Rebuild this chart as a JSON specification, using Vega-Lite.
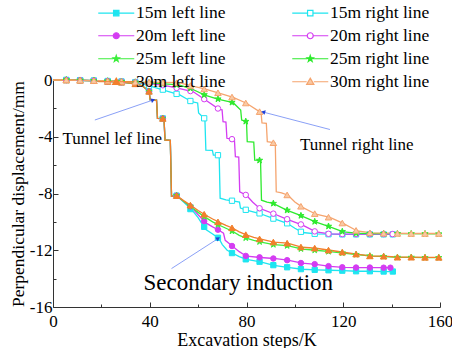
{
  "$schema": "https://vega.github.io/schema/vega-lite/v6.json",
  "width": 387,
  "height": 227,
  "autosize": {"type": "none"},
  "padding": {"left": 53, "top": 80, "right": 12, "bottom": 41},
  "background": "white",
  "config": {"view": {"stroke": null}, "font": "Liberation Serif"},
  "datasets": {
    "lines": [
      {"s":"15m left line","x":0,"y":0},{"s":"15m left line","x":6,"y":0},{"s":"15m left line","x":11,"y":-0.02},{"s":"15m left line","x":17,"y":-0.05},{"s":"15m left line","x":23,"y":-0.1},{"s":"15m left line","x":28,"y":-0.15},{"s":"15m left line","x":31,"y":-0.2},{"s":"15m left line","x":34.5,"y":-0.28},{"s":"15m left line","x":37,"y":-0.42},{"s":"15m left line","x":39.7,"y":-0.8},{"s":"15m left line","x":40.2,"y":-1.4},{"s":"15m left line","x":42.8,"y":-1.42},{"s":"15m left line","x":43.2,"y":-2.7},{"s":"15m left line","x":45.9,"y":-2.72},{"s":"15m left line","x":46.3,"y":-4.23},{"s":"15m left line","x":48.5,"y":-4.25},{"s":"15m left line","x":49,"y":-8.2},{"s":"15m left line","x":51.1,"y":-8.15},
      {"s":"15m left line","x":54,"y":-8.6},{"s":"15m left line","x":57.4,"y":-9.15},{"s":"15m left line","x":60,"y":-9.7},{"s":"15m left line","x":61.5,"y":-10.1},{"s":"15m left line","x":63.2,"y":-10.54},{"s":"15m left line","x":66,"y":-10.85},{"s":"15m left line","x":68.6,"y":-11.17},{"s":"15m left line","x":70,"y":-11.6},{"s":"15m left line","x":72,"y":-12.0},{"s":"15m left line","x":74.5,"y":-12.23},{"s":"15m left line","x":77,"y":-12.45},{"s":"15m left line","x":80,"y":-12.65},{"s":"15m left line","x":85.8,"y":-12.82},{"s":"15m left line","x":91.3,"y":-13.06},{"s":"15m left line","x":97,"y":-13.2},{"s":"15m left line","x":103,"y":-13.34},{"s":"15m left line","x":108.7,"y":-13.38},{"s":"15m left line","x":114.5,"y":-13.41},{"s":"15m left line","x":120,"y":-13.44},{"s":"15m left line","x":125.6,"y":-13.48},{"s":"15m left line","x":131,"y":-13.48},{"s":"15m left line","x":136.7,"y":-13.5},{"s":"15m left line","x":140.5,"y":-13.5},

      {"s":"15m right line","x":0,"y":0},{"s":"15m right line","x":6,"y":0},{"s":"15m right line","x":11,"y":-0.02},{"s":"15m right line","x":17,"y":-0.04},{"s":"15m right line","x":23,"y":-0.07},{"s":"15m right line","x":28,"y":-0.1},{"s":"15m right line","x":34,"y":-0.15},
      {"s":"15m right line","x":40,"y":-0.42},{"s":"15m right line","x":44,"y":-0.62},{"s":"15m right line","x":49.6,"y":-0.9},{"s":"15m right line","x":52.4,"y":-1.05},{"s":"15m right line","x":55,"y":-1.3},{"s":"15m right line","x":57.3,"y":-1.53},{"s":"15m right line","x":59.8,"y":-1.62},{"s":"15m right line","x":60.2,"y":-2.33},{"s":"15m right line","x":62.8,"y":-2.75},{"s":"15m right line","x":63.2,"y":-4.94},{"s":"15m right line","x":65.9,"y":-4.96},{"s":"15m right line","x":66.3,"y":-5.29},{"s":"15m right line","x":68.7,"y":-5.3},{"s":"15m right line","x":69.1,"y":-8.33},{"s":"15m right line","x":71.5,"y":-8.45},{"s":"15m right line","x":74.3,"y":-8.52},{"s":"15m right line","x":77.1,"y":-8.6},{"s":"15m right line","x":77.5,"y":-9.03},{"s":"15m right line","x":80,"y":-9.17},{"s":"15m right line","x":85.5,"y":-9.41},{"s":"15m right line","x":91,"y":-9.76},{"s":"15m right line","x":96.8,"y":-10.1},{"s":"15m right line","x":100,"y":-10.45},{"s":"15m right line","x":103.2,"y":-10.75},{"s":"15m right line","x":108.7,"y":-10.85},{"s":"15m right line","x":114.5,"y":-10.87},{"s":"15m right line","x":120,"y":-10.88},{"s":"15m right line","x":131,"y":-10.88},{"s":"15m right line","x":140.5,"y":-10.88},

      {"s":"20m left line","x":0,"y":0},{"s":"20m left line","x":6,"y":0},{"s":"20m left line","x":11,"y":-0.02},{"s":"20m left line","x":17,"y":-0.05},{"s":"20m left line","x":23,"y":-0.1},{"s":"20m left line","x":28,"y":-0.15},{"s":"20m left line","x":31,"y":-0.2},{"s":"20m left line","x":34.5,"y":-0.28},{"s":"20m left line","x":37,"y":-0.42},{"s":"20m left line","x":39.7,"y":-0.8},{"s":"20m left line","x":40.2,"y":-1.4},{"s":"20m left line","x":42.8,"y":-1.42},{"s":"20m left line","x":43.2,"y":-2.7},{"s":"20m left line","x":45.9,"y":-2.72},{"s":"20m left line","x":46.3,"y":-4.23},{"s":"20m left line","x":48.5,"y":-4.25},{"s":"20m left line","x":49,"y":-8.2},{"s":"20m left line","x":51.1,"y":-8.15},
      {"s":"20m left line","x":54,"y":-8.55},{"s":"20m left line","x":57.4,"y":-9.0},{"s":"20m left line","x":60,"y":-9.5},{"s":"20m left line","x":63.2,"y":-10.07},{"s":"20m left line","x":66,"y":-10.35},{"s":"20m left line","x":68.6,"y":-10.59},{"s":"20m left line","x":70.5,"y":-10.8},{"s":"20m left line","x":71.2,"y":-11.3},{"s":"20m left line","x":74.5,"y":-11.76},{"s":"20m left line","x":77,"y":-12.1},{"s":"20m left line","x":80,"y":-12.42},{"s":"20m left line","x":85.8,"y":-12.51},{"s":"20m left line","x":91.3,"y":-12.58},{"s":"20m left line","x":97,"y":-12.7},{"s":"20m left line","x":103,"y":-12.91},{"s":"20m left line","x":108.7,"y":-12.99},{"s":"20m left line","x":114.5,"y":-13.13},{"s":"20m left line","x":120,"y":-13.2},{"s":"20m left line","x":125.6,"y":-13.22},{"s":"20m left line","x":131,"y":-13.22},{"s":"20m left line","x":136.7,"y":-13.23},{"s":"20m left line","x":139.5,"y":-13.23},

      {"s":"20m right line","x":0,"y":0},{"s":"20m right line","x":6,"y":0},{"s":"20m right line","x":11,"y":-0.02},{"s":"20m right line","x":17,"y":-0.04},{"s":"20m right line","x":23,"y":-0.07},{"s":"20m right line","x":28,"y":-0.1},{"s":"20m right line","x":34,"y":-0.15},
      {"s":"20m right line","x":40,"y":-0.25},{"s":"20m right line","x":46,"y":-0.38},{"s":"20m right line","x":52,"y":-0.59},{"s":"20m right line","x":58,"y":-0.83},{"s":"20m right line","x":63.5,"y":-1.46},{"s":"20m right line","x":68.7,"y":-2.07},{"s":"20m right line","x":69.9,"y":-2.1},{"s":"20m right line","x":70.3,"y":-2.94},{"s":"20m right line","x":71.5,"y":-2.96},{"s":"20m right line","x":71.9,"y":-4.11},{"s":"20m right line","x":74.5,"y":-4.18},{"s":"20m right line","x":75,"y":-4.2},{"s":"20m right line","x":75.4,"y":-5.41},{"s":"20m right line","x":76.8,"y":-5.43},{"s":"20m right line","x":77.2,"y":-7.88},{"s":"20m right line","x":80,"y":-8.12},{"s":"20m right line","x":82.5,"y":-8.6},{"s":"20m right line","x":85.5,"y":-9.05},{"s":"20m right line","x":91,"y":-9.41},{"s":"20m right line","x":96.6,"y":-9.8},{"s":"20m right line","x":103.2,"y":-10.23},{"s":"20m right line","x":108.7,"y":-10.71},{"s":"20m right line","x":114.5,"y":-10.85},{"s":"20m right line","x":120,"y":-10.86},{"s":"20m right line","x":131,"y":-10.86},{"s":"20m right line","x":140.4,"y":-10.86},

      {"s":"25m left line","x":0,"y":0},{"s":"25m left line","x":6,"y":0},{"s":"25m left line","x":11,"y":-0.02},{"s":"25m left line","x":17,"y":-0.05},{"s":"25m left line","x":23,"y":-0.1},{"s":"25m left line","x":28,"y":-0.15},{"s":"25m left line","x":31,"y":-0.2},{"s":"25m left line","x":34.5,"y":-0.28},{"s":"25m left line","x":37,"y":-0.42},{"s":"25m left line","x":39.7,"y":-0.8},{"s":"25m left line","x":40.2,"y":-1.4},{"s":"25m left line","x":42.8,"y":-1.42},{"s":"25m left line","x":43.2,"y":-2.7},{"s":"25m left line","x":45.9,"y":-2.72},{"s":"25m left line","x":46.3,"y":-4.23},{"s":"25m left line","x":48.5,"y":-4.25},{"s":"25m left line","x":49,"y":-8.2},{"s":"25m left line","x":51.1,"y":-8.15},
      {"s":"25m left line","x":54,"y":-8.55},{"s":"25m left line","x":57.4,"y":-8.98},{"s":"25m left line","x":60,"y":-9.33},{"s":"25m left line","x":63.2,"y":-9.7},{"s":"25m left line","x":66,"y":-10.0},{"s":"25m left line","x":68.6,"y":-10.22},{"s":"25m left line","x":71.5,"y":-10.45},{"s":"25m left line","x":74.4,"y":-10.68},{"s":"25m left line","x":77,"y":-10.95},{"s":"25m left line","x":80.2,"y":-11.17},{"s":"25m left line","x":83,"y":-11.3},{"s":"25m left line","x":86,"y":-11.42},{"s":"25m left line","x":91.3,"y":-11.6},{"s":"25m left line","x":97,"y":-11.68},{"s":"25m left line","x":103,"y":-11.92},{"s":"25m left line","x":108.7,"y":-12.0},{"s":"25m left line","x":114.5,"y":-12.1},{"s":"25m left line","x":120,"y":-12.2},{"s":"25m left line","x":125.6,"y":-12.3},{"s":"25m left line","x":131.8,"y":-12.42},{"s":"25m left line","x":137,"y":-12.44},{"s":"25m left line","x":142.6,"y":-12.5},{"s":"25m left line","x":148,"y":-12.5},{"s":"25m left line","x":154,"y":-12.52},{"s":"25m left line","x":160,"y":-12.52},

      {"s":"25m right line","x":0,"y":0},{"s":"25m right line","x":6,"y":0},{"s":"25m right line","x":11,"y":-0.02},{"s":"25m right line","x":17,"y":-0.04},{"s":"25m right line","x":23,"y":-0.07},{"s":"25m right line","x":28,"y":-0.1},{"s":"25m right line","x":34,"y":-0.15},
      {"s":"25m right line","x":40,"y":-0.2},{"s":"25m right line","x":46,"y":-0.27},{"s":"25m right line","x":52,"y":-0.35},{"s":"25m right line","x":57,"y":-0.6},{"s":"25m right line","x":62.8,"y":-1.06},{"s":"25m right line","x":68.1,"y":-1.34},{"s":"25m right line","x":74.5,"y":-1.6},{"s":"25m right line","x":77.6,"y":-2.12},{"s":"25m right line","x":78,"y":-2.82},{"s":"25m right line","x":80,"y":-2.94},{"s":"25m right line","x":80.3,"y":-4.35},{"s":"25m right line","x":83,"y":-4.37},{"s":"25m right line","x":83.4,"y":-5.65},{"s":"25m right line","x":85.8,"y":-5.67},{"s":"25m right line","x":86.2,"y":-8.47},{"s":"25m right line","x":88.5,"y":-8.6},{"s":"25m right line","x":91,"y":-8.7},{"s":"25m right line","x":96.6,"y":-9.17},{"s":"25m right line","x":102,"y":-9.53},{"s":"25m right line","x":108.5,"y":-10.0},{"s":"25m right line","x":114.5,"y":-10.35},{"s":"25m right line","x":120,"y":-10.71},{"s":"25m right line","x":125.6,"y":-10.8},{"s":"25m right line","x":131,"y":-10.82},{"s":"25m right line","x":142,"y":-10.83},{"s":"25m right line","x":160,"y":-10.85},

      {"s":"30m left line","x":0,"y":0},{"s":"30m left line","x":6,"y":0},{"s":"30m left line","x":11,"y":-0.02},{"s":"30m left line","x":17,"y":-0.05},{"s":"30m left line","x":23,"y":-0.1},{"s":"30m left line","x":28,"y":-0.15},{"s":"30m left line","x":31,"y":-0.2},{"s":"30m left line","x":34.5,"y":-0.28},{"s":"30m left line","x":37,"y":-0.42},{"s":"30m left line","x":39.7,"y":-0.8},{"s":"30m left line","x":40.2,"y":-1.4},{"s":"30m left line","x":42.8,"y":-1.42},{"s":"30m left line","x":43.2,"y":-2.7},{"s":"30m left line","x":45.9,"y":-2.72},{"s":"30m left line","x":46.3,"y":-4.23},{"s":"30m left line","x":48.5,"y":-4.25},{"s":"30m left line","x":49,"y":-8.2},{"s":"30m left line","x":51.1,"y":-8.15},
      {"s":"30m left line","x":54,"y":-8.5},{"s":"30m left line","x":57.4,"y":-8.89},{"s":"30m left line","x":60,"y":-9.2},{"s":"30m left line","x":63.2,"y":-9.53},{"s":"30m left line","x":66,"y":-9.8},{"s":"30m left line","x":68.6,"y":-10.02},{"s":"30m left line","x":71.5,"y":-10.25},{"s":"30m left line","x":74.4,"y":-10.45},{"s":"30m left line","x":77,"y":-10.7},{"s":"30m left line","x":80.2,"y":-10.94},{"s":"30m left line","x":83,"y":-11.1},{"s":"30m left line","x":86,"y":-11.22},{"s":"30m left line","x":91.3,"y":-11.43},{"s":"30m left line","x":97,"y":-11.5},{"s":"30m left line","x":103,"y":-11.79},{"s":"30m left line","x":108.7,"y":-11.86},{"s":"30m left line","x":114.5,"y":-12.0},{"s":"30m left line","x":120,"y":-12.14},{"s":"30m left line","x":125.6,"y":-12.28},{"s":"30m left line","x":131.8,"y":-12.42},{"s":"30m left line","x":137,"y":-12.42},{"s":"30m left line","x":142.6,"y":-12.49},{"s":"30m left line","x":148,"y":-12.49},{"s":"30m left line","x":154,"y":-12.5},{"s":"30m left line","x":160,"y":-12.5},

      {"s":"30m right line","x":0,"y":0},{"s":"30m right line","x":6,"y":0},{"s":"30m right line","x":11,"y":-0.02},{"s":"30m right line","x":17,"y":-0.04},{"s":"30m right line","x":23,"y":-0.07},{"s":"30m right line","x":28,"y":-0.1},{"s":"30m right line","x":34,"y":-0.15},
      {"s":"30m right line","x":40,"y":-0.15},{"s":"30m right line","x":46,"y":-0.17},{"s":"30m right line","x":52,"y":-0.19},{"s":"30m right line","x":57,"y":-0.4},{"s":"30m right line","x":63,"y":-0.65},{"s":"30m right line","x":69,"y":-0.94},{"s":"30m right line","x":74.5,"y":-1.22},{"s":"30m right line","x":80,"y":-1.64},{"s":"30m right line","x":85.5,"y":-2.24},{"s":"30m right line","x":86,"y":-2.26},{"s":"30m right line","x":86.4,"y":-3.03},{"s":"30m right line","x":88.2,"y":-3.05},{"s":"30m right line","x":88.6,"y":-4.35},{"s":"30m right line","x":91.3,"y":-4.42},{"s":"30m right line","x":91.9,"y":-4.45},{"s":"30m right line","x":92.3,"y":-7.88},{"s":"30m right line","x":94.5,"y":-7.95},{"s":"30m right line","x":97.2,"y":-8.12},{"s":"30m right line","x":100,"y":-8.6},{"s":"30m right line","x":103.2,"y":-8.98},{"s":"30m right line","x":108.7,"y":-9.46},{"s":"30m right line","x":114.5,"y":-9.69},{"s":"30m right line","x":120,"y":-10.11},{"s":"30m right line","x":125.8,"y":-10.64},{"s":"30m right line","x":131.7,"y":-10.78},{"s":"30m right line","x":137,"y":-10.8},{"s":"30m right line","x":148,"y":-10.82},{"s":"30m right line","x":160,"y":-10.82}
    ],
    "marks": [
      {"series":"15m left line","x":5.5,"y":0},{"series":"15m left line","x":11.2,"y":-0.02},{"series":"15m left line","x":16.9,"y":-0.05},{"series":"15m left line","x":22.6,"y":-0.1},{"series":"15m left line","x":28.3,"y":-0.16},{"series":"15m left line","x":34,"y":-0.27},{"series":"15m left line","x":39.7,"y":-0.8},{"series":"15m left line","x":45.4,"y":-2.71},{"series":"15m left line","x":51.1,"y":-8.15},
      {"series":"15m left line","x":56.8,"y":-9.1},{"series":"15m left line","x":62.5,"y":-10.35},{"series":"15m left line","x":68.2,"y":-11.12},{"series":"15m left line","x":74,"y":-12.2},{"series":"15m left line","x":79.7,"y":-12.64},{"series":"15m left line","x":85.4,"y":-12.81},{"series":"15m left line","x":91.1,"y":-13.05},{"series":"15m left line","x":96.8,"y":-13.2},{"series":"15m left line","x":102.5,"y":-13.33},{"series":"15m left line","x":108.2,"y":-13.38},{"series":"15m left line","x":113.9,"y":-13.41},{"series":"15m left line","x":119.6,"y":-13.44},{"series":"15m left line","x":125.3,"y":-13.48},{"series":"15m left line","x":131,"y":-13.48},{"series":"15m left line","x":136.7,"y":-13.5},{"series":"15m left line","x":140.5,"y":-13.5},

      {"series":"15m right line","x":5.5,"y":0},{"series":"15m right line","x":11.2,"y":-0.02},{"series":"15m right line","x":16.9,"y":-0.04},{"series":"15m right line","x":22.6,"y":-0.07},{"series":"15m right line","x":28.3,"y":-0.1},{"series":"15m right line","x":34,"y":-0.15},
      {"series":"15m right line","x":39.7,"y":-0.41},{"series":"15m right line","x":45.4,"y":-0.68},{"series":"15m right line","x":51.1,"y":-0.98},{"series":"15m right line","x":56.8,"y":-1.48},{"series":"15m right line","x":62.5,"y":-2.7},{"series":"15m right line","x":68.2,"y":-5.3},{"series":"15m right line","x":74,"y":-8.51},{"series":"15m right line","x":79.7,"y":-9.15},{"series":"15m right line","x":85.4,"y":-9.4},{"series":"15m right line","x":91.1,"y":-9.77},{"series":"15m right line","x":96.8,"y":-10.1},{"series":"15m right line","x":102.5,"y":-10.7},{"series":"15m right line","x":108.2,"y":-10.84},{"series":"15m right line","x":113.9,"y":-10.87},{"series":"15m right line","x":119.6,"y":-10.88},{"series":"15m right line","x":125.3,"y":-10.88},{"series":"15m right line","x":131,"y":-10.88},{"series":"15m right line","x":136.7,"y":-10.88},{"series":"15m right line","x":140.5,"y":-10.88},

      {"series":"20m left line","x":5.5,"y":0},{"series":"20m left line","x":11.2,"y":-0.02},{"series":"20m left line","x":16.9,"y":-0.05},{"series":"20m left line","x":22.6,"y":-0.1},{"series":"20m left line","x":28.3,"y":-0.16},{"series":"20m left line","x":34,"y":-0.27},{"series":"20m left line","x":39.7,"y":-0.8},{"series":"20m left line","x":45.4,"y":-2.71},{"series":"20m left line","x":51.1,"y":-8.15},
      {"series":"20m left line","x":56.8,"y":-8.92},{"series":"20m left line","x":62.5,"y":-9.95},{"series":"20m left line","x":68.2,"y":-10.55},{"series":"20m left line","x":74,"y":-11.7},{"series":"20m left line","x":79.7,"y":-12.4},{"series":"20m left line","x":85.4,"y":-12.5},{"series":"20m left line","x":91.1,"y":-12.58},{"series":"20m left line","x":96.8,"y":-12.7},{"series":"20m left line","x":102.5,"y":-12.9},{"series":"20m left line","x":108.2,"y":-12.98},{"series":"20m left line","x":113.9,"y":-13.12},{"series":"20m left line","x":119.6,"y":-13.2},{"series":"20m left line","x":125.3,"y":-13.22},{"series":"20m left line","x":131,"y":-13.22},{"series":"20m left line","x":136.7,"y":-13.23},{"series":"20m left line","x":139.5,"y":-13.23},

      {"series":"20m right line","x":5.5,"y":0},{"series":"20m right line","x":11.2,"y":-0.02},{"series":"20m right line","x":16.9,"y":-0.04},{"series":"20m right line","x":22.6,"y":-0.07},{"series":"20m right line","x":28.3,"y":-0.1},{"series":"20m right line","x":34,"y":-0.15},
      {"series":"20m right line","x":39.7,"y":-0.25},{"series":"20m right line","x":45.4,"y":-0.37},{"series":"20m right line","x":51.1,"y":-0.56},{"series":"20m right line","x":56.8,"y":-0.78},{"series":"20m right line","x":62.5,"y":-1.35},{"series":"20m right line","x":68.2,"y":-2.01},{"series":"20m right line","x":74,"y":-4.17},{"series":"20m right line","x":79.7,"y":-8.1},{"series":"20m right line","x":85.4,"y":-9.04},{"series":"20m right line","x":91.1,"y":-9.42},{"series":"20m right line","x":96.8,"y":-9.81},{"series":"20m right line","x":102.5,"y":-10.18},{"series":"20m right line","x":108.2,"y":-10.67},{"series":"20m right line","x":113.9,"y":-10.84},{"series":"20m right line","x":119.6,"y":-10.86},{"series":"20m right line","x":125.3,"y":-10.86},{"series":"20m right line","x":131,"y":-10.86},{"series":"20m right line","x":136.7,"y":-10.86},{"series":"20m right line","x":140.4,"y":-10.86},

      {"series":"25m left line","x":5.5,"y":0},{"series":"25m left line","x":11.2,"y":-0.02},{"series":"25m left line","x":16.9,"y":-0.05},{"series":"25m left line","x":22.6,"y":-0.1},{"series":"25m left line","x":28.3,"y":-0.16},{"series":"25m left line","x":34,"y":-0.27},{"series":"25m left line","x":39.7,"y":-0.8},{"series":"25m left line","x":45.4,"y":-2.71},{"series":"25m left line","x":51.1,"y":-8.15},
      {"series":"25m left line","x":56.8,"y":-8.9},{"series":"25m left line","x":62.5,"y":-9.62},{"series":"25m left line","x":68.2,"y":-10.19},{"series":"25m left line","x":74,"y":-10.65},{"series":"25m left line","x":79.7,"y":-11.13},{"series":"25m left line","x":85.4,"y":-11.4},{"series":"25m left line","x":91.1,"y":-11.6},{"series":"25m left line","x":96.8,"y":-11.68},{"series":"25m left line","x":102.5,"y":-11.9},{"series":"25m left line","x":108.2,"y":-11.99},{"series":"25m left line","x":113.9,"y":-12.09},{"series":"25m left line","x":119.6,"y":-12.19},{"series":"25m left line","x":125.3,"y":-12.3},{"series":"25m left line","x":131,"y":-12.4},{"series":"25m left line","x":136.7,"y":-12.44},{"series":"25m left line","x":142.4,"y":-12.5},{"series":"25m left line","x":148.1,"y":-12.5},{"series":"25m left line","x":153.8,"y":-12.52},{"series":"25m left line","x":159.5,"y":-12.52},

      {"series":"25m right line","x":5.5,"y":0},{"series":"25m right line","x":11.2,"y":-0.02},{"series":"25m right line","x":16.9,"y":-0.04},{"series":"25m right line","x":22.6,"y":-0.07},{"series":"25m right line","x":28.3,"y":-0.1},{"series":"25m right line","x":34,"y":-0.15},
      {"series":"25m right line","x":39.7,"y":-0.2},{"series":"25m right line","x":45.4,"y":-0.26},{"series":"25m right line","x":51.1,"y":-0.34},{"series":"25m right line","x":56.8,"y":-0.59},{"series":"25m right line","x":62.5,"y":-1.04},{"series":"25m right line","x":68.2,"y":-1.34},{"series":"25m right line","x":74,"y":-1.58},{"series":"25m right line","x":79.7,"y":-2.92},{"series":"25m right line","x":85.4,"y":-5.66},{"series":"25m right line","x":91.1,"y":-8.7},{"series":"25m right line","x":96.8,"y":-9.18},{"series":"25m right line","x":102.5,"y":-9.56},{"series":"25m right line","x":108.2,"y":-9.98},{"series":"25m right line","x":113.9,"y":-10.31},{"series":"25m right line","x":119.6,"y":-10.68},{"series":"25m right line","x":125.3,"y":-10.8},{"series":"25m right line","x":131,"y":-10.82},{"series":"25m right line","x":136.7,"y":-10.82},{"series":"25m right line","x":142.4,"y":-10.83},{"series":"25m right line","x":148.1,"y":-10.84},{"series":"25m right line","x":153.8,"y":-10.84},{"series":"25m right line","x":159.5,"y":-10.85},

      {"series":"30m left line","x":5.5,"y":0},{"series":"30m left line","x":11.2,"y":-0.02},{"series":"30m left line","x":16.9,"y":-0.05},{"series":"30m left line","x":22.6,"y":-0.1},{"series":"30m left line","x":28.3,"y":-0.16},{"series":"30m left line","x":34,"y":-0.27},{"series":"30m left line","x":39.7,"y":-0.8},{"series":"30m left line","x":45.4,"y":-2.71},{"series":"30m left line","x":51.1,"y":-8.15},
      {"series":"30m left line","x":56.8,"y":-8.82},{"series":"30m left line","x":62.5,"y":-9.46},{"series":"30m left line","x":68.2,"y":-10.0},{"series":"30m left line","x":74,"y":-10.42},{"series":"30m left line","x":79.7,"y":-10.9},{"series":"30m left line","x":85.4,"y":-11.2},{"series":"30m left line","x":91.1,"y":-11.42},{"series":"30m left line","x":96.8,"y":-11.5},{"series":"30m left line","x":102.5,"y":-11.77},{"series":"30m left line","x":108.2,"y":-11.85},{"series":"30m left line","x":113.9,"y":-11.99},{"series":"30m left line","x":119.6,"y":-12.13},{"series":"30m left line","x":125.3,"y":-12.27},{"series":"30m left line","x":131,"y":-12.4},{"series":"30m left line","x":136.7,"y":-12.42},{"series":"30m left line","x":142.4,"y":-12.49},{"series":"30m left line","x":148.1,"y":-12.49},{"series":"30m left line","x":153.8,"y":-12.5},{"series":"30m left line","x":159.5,"y":-12.5},

      {"series":"30m right line","x":5.5,"y":0},{"series":"30m right line","x":11.2,"y":-0.02},{"series":"30m right line","x":16.9,"y":-0.04},{"series":"30m right line","x":22.6,"y":-0.07},{"series":"30m right line","x":28.3,"y":-0.1},{"series":"30m right line","x":34,"y":-0.15},
      {"series":"30m right line","x":39.7,"y":-0.15},{"series":"30m right line","x":45.4,"y":-0.17},{"series":"30m right line","x":51.1,"y":-0.19},{"series":"30m right line","x":56.8,"y":-0.39},{"series":"30m right line","x":62.5,"y":-0.63},{"series":"30m right line","x":68.2,"y":-0.9},{"series":"30m right line","x":74,"y":-1.2},{"series":"30m right line","x":79.7,"y":-1.62},{"series":"30m right line","x":85.4,"y":-2.23},{"series":"30m right line","x":91.1,"y":-4.42},{"series":"30m right line","x":96.8,"y":-8.1},{"series":"30m right line","x":102.5,"y":-8.9},{"series":"30m right line","x":108.2,"y":-9.42},{"series":"30m right line","x":113.9,"y":-9.67},{"series":"30m right line","x":119.6,"y":-10.08},{"series":"30m right line","x":125.3,"y":-10.6},{"series":"30m right line","x":131,"y":-10.77},{"series":"30m right line","x":136.7,"y":-10.8},{"series":"30m right line","x":142.4,"y":-10.81},{"series":"30m right line","x":148.1,"y":-10.82},{"series":"30m right line","x":153.8,"y":-10.82},{"series":"30m right line","x":159.5,"y":-10.82}
    ],
    "notes": [
      {"text":"Tunnel lef line","x":24.5,"y":-4.48},
      {"text":"Tunnel right line","x":125.6,"y":-4.94},
      {"text":"Secondary induction","x":76.6,"y":-14.82}
    ],
    "arrows": [
      {"x":17.3,"y":-2.82,"x2":41.4,"y2":-1.41},
      {"x":114.5,"y":-3.49,"x2":86.9,"y2":-2.26},
      {"x":49.0,"y":-13.29,"x2":68.3,"y2":-11.17}
    ]
  },
  "encoding": {
    "x": {"field":"x","type":"quantitative","scale":{"domain":[0,160],"nice":false},
      "axis":{"title":"Excavation steps/K","values":[0,20,40,60,80,100,120,140,160],
        "labelExpr":"datum.value % 40 === 0 ? datum.label : ''",
        "tickSize":{"condition":{"test":"datum.value % 40 !== 0","value":-3},"value":-5},
        "grid":false,"domainColor":"#333","tickColor":"#333","labelFont":"Liberation Serif","labelFontSize":17,"labelColor":"#000",
        "titleFont":"Liberation Serif","titleFontSize":18,"titleFontWeight":"normal","titleColor":"#000","labelPadding":11,"titlePadding":0,"labelFlush":false,"labelOverlap":false}},
    "y": {"field":"y","type":"quantitative","scale":{"domain":[-16,0],"nice":false},
      "axis":{"title":"Perpendicular displacement/mm","values":[0,-2,-4,-6,-8,-10,-12,-14,-16],
        "labelExpr":"datum.value % 4 === 0 ? '' + datum.value : ''",
        "tickSize":{"condition":{"test":"datum.value % 4 !== 0","value":-3},"value":-5},
        "grid":false,"domainColor":"#333","tickColor":"#333","labelFont":"Liberation Serif","labelFontSize":17,"labelColor":"#000",
        "titleFont":"Liberation Serif","titleFontSize":17.5,"titleFontWeight":"normal","titleColor":"#000","labelPadding":6,"titlePadding":2,"labelOverlap":false}}
  },
  "layer": [
    {
      "data": {"name":"lines"},
      "mark": {"type":"line","strokeWidth":1.3},
      "encoding": {
        "color": {"field":"s","type":"nominal",
          "scale":{"domain":["15m left line","15m right line","20m left line","20m right line","25m left line","25m right line","30m left line","30m right line"],
                   "range":["#1ee5f0","#1ee5f0","#d43cf2","#d43cf2","#3cee3c","#2eea2e","#f27f2c","#f5a46e"]},
          "legend":{"title":null,"orient":"none","legendX":54.5,"legendY":-76,"direction":"horizontal","columns":2,"columnPadding":64,"rowPadding":4,
            "symbolSize":144,"symbolStrokeWidth":1.2,"labelFont":"Liberation Serif","labelFontSize":17.5,"labelColor":"#000","labelOffset":11,"labelLimit":0}
        }
      }
    },
    {
      "data": {"name":"lines"},
      "transform": [{"filter":"false"}],
      "mark": {"type":"point","opacity":1,"strokeWidth":1.2},
      "encoding": {
        "stroke": {"field":"s","type":"nominal","legend":null,
          "scale":{"domain":["15m left line","15m right line","20m left line","20m right line","25m left line","25m right line","30m left line","30m right line"],
                   "range":["#1ee5f0","#1ee5f0","#d43cf2","#d43cf2","#3cee3c","#2eea2e","#f27f2c","#f5a46e"]}},
        "fill": {"field":"s","type":"nominal","legend":null,
          "scale":{"domain":["15m left line","15m right line","20m left line","20m right line","25m left line","25m right line","30m left line","30m right line"],
                   "range":["#1ee5f0","#ffffff","#d43cf2","#ffffff","#3cee3c","#2eea2e","#f27f2c","#f9c9a4"]}},
        "shape": {"field":"s","type":"nominal","legend":null,
          "scale":{"domain":["15m left line","15m right line","20m left line","20m right line","25m left line","25m right line","30m left line","30m right line"],
                   "range":[
                     "M-3,0H-0.45M0.45,0H3M-0.45,-0.45H0.45V0.45H-0.45Z",
                     "M-3,0H-0.45M0.45,0H3M-0.45,-0.45H0.45V0.45H-0.45Z",
                     "M-3,0H-0.5M0.5,0H3M-0.5,0A0.5,0.5 0 1,0 0.5,0A0.5,0.5 0 1,0 -0.5,0Z",
                     "M-3,0H-0.5M0.5,0H3M-0.5,0A0.5,0.5 0 1,0 0.5,0A0.5,0.5 0 1,0 -0.5,0Z",
                     "M-3,0H-0.5M0.5,0H3M0,-0.55L0.129,-0.178L0.523,-0.17L0.209,0.068L0.323,0.445L0,0.22L-0.323,0.445L-0.209,0.068L-0.523,-0.17L-0.129,-0.178Z",
                     "M-3,0H-0.5M0.5,0H3M0,-0.55L0.129,-0.178L0.523,-0.17L0.209,0.068L0.323,0.445L0,0.22L-0.323,0.445L-0.209,0.068L-0.523,-0.17L-0.129,-0.178Z",
                     "M-3,0H-0.6M0.6,0H3M0,-0.6L0.6,0.45H-0.6Z",
                     "M-3,0H-0.6M0.6,0H3M0,-0.6L0.6,0.45H-0.6Z"]}}
      }
    },
    {"data":{"name":"marks"},"transform":[{"filter":"datum.series === '15m left line'"}],"mark":{"type":"point","shape":"square","filled":true,"fill":"#1ee5f0","stroke":"#1ee5f0","strokeWidth":1,"size":28,"opacity":1}},
    {"data":{"name":"marks"},"transform":[{"filter":"datum.series === '15m right line'"}],"mark":{"type":"point","shape":"square","filled":true,"fill":"#ffffff","stroke":"#1ee5f0","strokeWidth":1,"size":28,"opacity":1}},
    {"data":{"name":"marks"},"transform":[{"filter":"datum.series === '20m left line'"}],"mark":{"type":"point","shape":"circle","filled":true,"fill":"#d43cf2","stroke":"#d43cf2","strokeWidth":1,"size":30,"opacity":1}},
    {"data":{"name":"marks"},"transform":[{"filter":"datum.series === '20m right line'"}],"mark":{"type":"point","shape":"circle","filled":true,"fill":"#ffffff","stroke":"#d43cf2","strokeWidth":1,"size":30,"opacity":1}},
    {"data":{"name":"marks"},"transform":[{"filter":"datum.series === '25m left line'"}],"mark":{"type":"point","shape":"M0,-1.2L0.282,-0.388L1.141,-0.371L0.457,0.148L0.705,0.971L0,0.48L-0.705,0.971L-0.457,0.148L-1.141,-0.371L-0.282,-0.388Z","filled":true,"fill":"#3cee3c","stroke":"#3cee3c","strokeWidth":1,"size":30,"opacity":1}},
    {"data":{"name":"marks"},"transform":[{"filter":"datum.series === '25m right line'"}],"mark":{"type":"point","shape":"M0,-1.2L0.282,-0.388L1.141,-0.371L0.457,0.148L0.705,0.971L0,0.48L-0.705,0.971L-0.457,0.148L-1.141,-0.371L-0.282,-0.388Z","filled":true,"fill":"#2eea2e","stroke":"#2eea2e","strokeWidth":1,"size":30,"opacity":1}},
    {"data":{"name":"marks"},"transform":[{"filter":"datum.series === '30m left line'"}],"mark":{"type":"point","shape":"triangle-up","filled":true,"fill":"#f27f2c","stroke":"#f27f2c","strokeWidth":1,"size":42,"opacity":1}},
    {"data":{"name":"marks"},"transform":[{"filter":"datum.series === '30m right line'"}],"mark":{"type":"point","shape":"triangle-up","filled":true,"fill":"#f9c9a4","stroke":"#f5a46e","strokeWidth":1,"size":42,"opacity":1}},
    {
      "data": {"name":"arrows"},
      "mark": {"type":"rule","color":"#7d95f5","strokeWidth":0.9},
      "encoding": {"x2":{"field":"x2"},"y2":{"field":"y2"}}
    },
    {
      "data": {"values":[{"x":41.4,"y":-1.41}]},
      "mark": {"type":"point","shape":"triangle-right","angle":341,"filled":true,"color":"#1f3fd8","size":22,"opacity":1}
    },
    {
      "data": {"values":[{"x":86.9,"y":-2.26}]},
      "mark": {"type":"point","shape":"triangle-right","angle":195,"filled":true,"color":"#1f3fd8","size":22,"opacity":1}
    },
    {
      "data": {"values":[{"x":68.3,"y":-11.17}]},
      "mark": {"type":"point","shape":"triangle-right","angle":327,"filled":true,"color":"#1f3fd8","size":22,"opacity":1}
    },
    {
      "data": {"name":"notes"},
      "transform": [{"filter":"datum.text !== 'Secondary induction'"}],
      "mark": {"type":"text","font":"Liberation Serif","fontSize":17,"align":"center","baseline":"alphabetic","color":"#000"},
      "encoding": {"text":{"field":"text"}}
    },
    {
      "data": {"name":"notes"},
      "transform": [{"filter":"datum.text === 'Secondary induction'"}],
      "mark": {"type":"text","font":"Liberation Serif","fontSize":23,"align":"center","baseline":"alphabetic","color":"#000"},
      "encoding": {"text":{"field":"text"}}
    }
  ]
}
